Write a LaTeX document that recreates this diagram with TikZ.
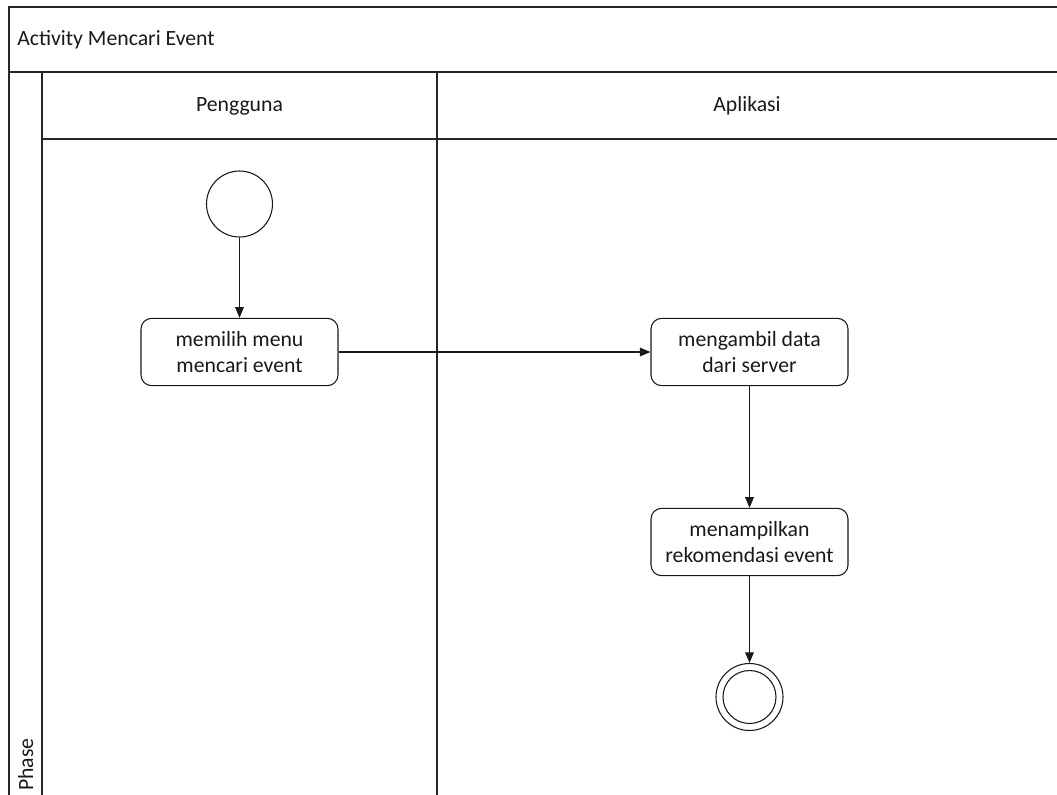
\documentclass[tikz,border=0pt]{standalone}
\usepackage{fontspec}
\setmainfont{Carlito}
\usetikzlibrary{arrows.meta}
\begin{document}
\begin{tikzpicture}[
  x=0.75pt, y=-0.75pt,
  every node/.style={font=\fontsize{16.3}{19}\selectfont, text=black!90},
  lane/.style={draw=black!85, line width=0.9pt},
  action/.style={draw=black!90, line width=0.8pt, rounded corners=8pt,
    minimum width=147.75pt, minimum height=50.5pt, align=center, inner sep=0pt},
  initial/.style={draw=black!90, line width=0.8pt, circle, minimum size=49.5pt, inner sep=0pt},
  finalouter/.style={draw=black!90, line width=0.8pt, circle, minimum size=50.25pt, inner sep=0pt},
  finalinner/.style={draw=black!90, line width=0.8pt, circle, minimum size=39.75pt, inner sep=0pt},
  flow/.style={draw=black!90, line width=0.8pt, -{Triangle[length=8pt, width=6.5pt]}}
]
\useasboundingbox (0,0) rectangle (1057,794);
\fill[white] (0,0) rectangle (1057,794);
\begin{scope}
\clip (0,0) rectangle (1057,794);
% pool frame, title band and lane headers
\draw[lane] (1060,7) -- (9,7) -- (9,800);
\draw[lane] (9,72) -- (1060,72);
\draw[lane] (42,72) -- (42,800);
\draw[lane] (42,139) -- (1060,139);
\draw[lane] (437,72) -- (437,800);
\end{scope}

% labels
\node[anchor=west, inner sep=0pt] (title) at (17,40) {Activity Mencari Event};
\node (lane1) at (239.5,106) {Pengguna};
\node (lane2) at (747,106) {Aplikasi};
\node[rotate=90, anchor=base west, inner sep=0pt] (phase) at (33,791) {Phase};

% activity nodes
\node[initial] (start) at (239.5,204) {};
\node[action] (a1) at (239.5,352) {memilih menu\\mencari event};
\node[action] (a2) at (749.5,352) {mengambil data\\dari server};
\node[action] (a3) at (749.5,542) {menampilkan\\rekomendasi event};
\node[finalouter] (end) at (749.5,697) {};
\node[finalinner] (endin) at (end.center) {};

% control flow
\draw[flow] (start) -- (a1);
\draw[flow] (a1) -- (a2);
\draw[flow] (a2) -- (a3);
\draw[flow] (a3) -- (end);
\end{tikzpicture}
\end{document}
